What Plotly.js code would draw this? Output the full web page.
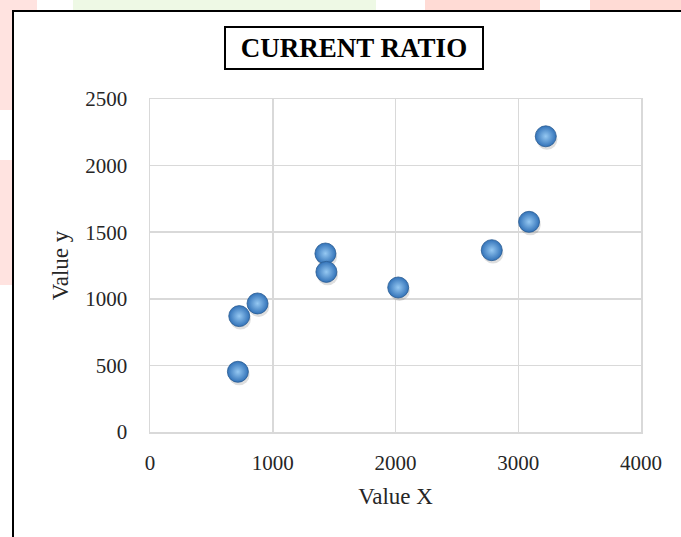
<!DOCTYPE html>
<html>
<head>
<meta charset="utf-8">
<script src="https://cdn.plot.ly/plotly-3.0.1.min.js"></script>
<style>
  html, body { margin: 0; padding: 0; background: #ffffff; }
  #wrap { position: relative; width: 681px; height: 537px; overflow: hidden; }
  .bg { position: absolute; }
  #frame { position: absolute; left: 12px; top: 10px; width: 700px; height: 560px;
           border: 2px solid #000; background: #ffffff; box-sizing: border-box; }
  #chart { position: absolute; left: 0; top: 0; width: 681px; height: 537px; }
</style>
</head>
<body>
<div id="wrap">
  <div class="bg" style="left:0;top:0;width:37px;height:12px;background:#ffe3e0;"></div>
  <div class="bg" style="left:73px;top:0;width:303px;height:12px;background:#eef9e5;"></div>
  <div class="bg" style="left:425px;top:0;width:115px;height:12px;background:#ffdbd5;"></div>
  <div class="bg" style="left:590px;top:0;width:91px;height:12px;background:#ffdbd5;"></div>
  <div class="bg" style="left:0;top:0;width:13px;height:110px;background:#ffe3e0;"></div>
  <div class="bg" style="left:0;top:160px;width:13px;height:125px;background:#ffe3e0;"></div>
  <div id="frame"></div>
  <div id="chart"></div>
</div>
<script>
// Data
const valueX = [716, 727, 876, 1429, 1437, 2022, 2784, 3088, 3224];
const valueY = [452, 870, 965, 1340, 1202, 1085, 1365, 1578, 2220];
const xTicks = [0, 1000, 2000, 3000, 4000];
const yTicks = [0, 500, 1000, 1500, 2000, 2500];
const chartTitle = 'CURRENT RATIO';
const xTitle = 'Value X';
const yTitle = 'Value y';

const serif = 'Liberation Serif, Times New Roman, serif';

const traces = [
  {
    type: 'scatter', mode: 'markers',
    x: valueX.map(v => v + 10), y: valueY.map(v => v - 22),
    marker: { size: 21, color: 'rgba(0,0,0,0.13)', line: { width: 0 } },
    hoverinfo: 'skip', showlegend: false
  },
  {
    type: 'scatter', mode: 'markers',
    x: valueX, y: valueY,
    marker: {
      size: 21,
      color: '#3272b8',
      gradient: { type: 'radial', color: '#95c8f2' },
      line: { width: 0.8, color: '#2a5c92' }
    },
    showlegend: false
  }
];

const layout = {
  width: 681, height: 537,
  paper_bgcolor: 'rgba(0,0,0,0)',
  plot_bgcolor: 'rgba(0,0,0,0)',
  margin: { l: 150, r: 40, t: 99, b: 105 },
  showlegend: false,
  font: { family: serif, color: '#262626' },
  xaxis: {
    range: [0, 4000],
    tickvals: xTicks, ticktext: xTicks.map(String),
    showgrid: true, gridcolor: '#d9d9d9', gridwidth: 1.5,
    zeroline: false,
    showline: true, linecolor: '#d9d9d9', linewidth: 1.5, mirror: true,
    ticks: 'outside', ticklen: 11, tickcolor: 'rgba(0,0,0,0)',
    tickfont: { family: serif, size: 21, color: '#262626' },
    title: { text: xTitle, font: { family: serif, size: 23, color: '#262626' }, standoff: 14 },
    fixedrange: true
  },
  yaxis: {
    range: [0, 2500],
    tickvals: yTicks, ticktext: yTicks.map(String),
    showgrid: true, gridcolor: '#d9d9d9', gridwidth: 1.5,
    zeroline: false,
    showline: true, linecolor: '#d9d9d9', linewidth: 1.5, mirror: true,
    ticks: 'outside', ticklen: 17, tickcolor: 'rgba(0,0,0,0)',
    tickfont: { family: serif, size: 21, color: '#262626' },
    title: { text: yTitle, font: { family: serif, size: 23, color: '#262626' }, standoff: 10 },
    fixedrange: true
  },
  annotations: [{
    text: '<b>' + chartTitle + '</b>',
    xref: 'paper', yref: 'paper',
    x: (354 - 150) / 491, y: 1 + (99 - 48) / 333,
    xanchor: 'center', yanchor: 'middle',
    showarrow: false,
    font: { family: serif, size: 27, color: '#000' },
    width: 252, height: 36,
    bordercolor: '#000', borderwidth: 2, borderpad: 2, bgcolor: '#fff'
  }]
};

Plotly.newPlot('chart', traces, layout, { displayModeBar: false, staticPlot: true });
</script>
</body>
</html>
